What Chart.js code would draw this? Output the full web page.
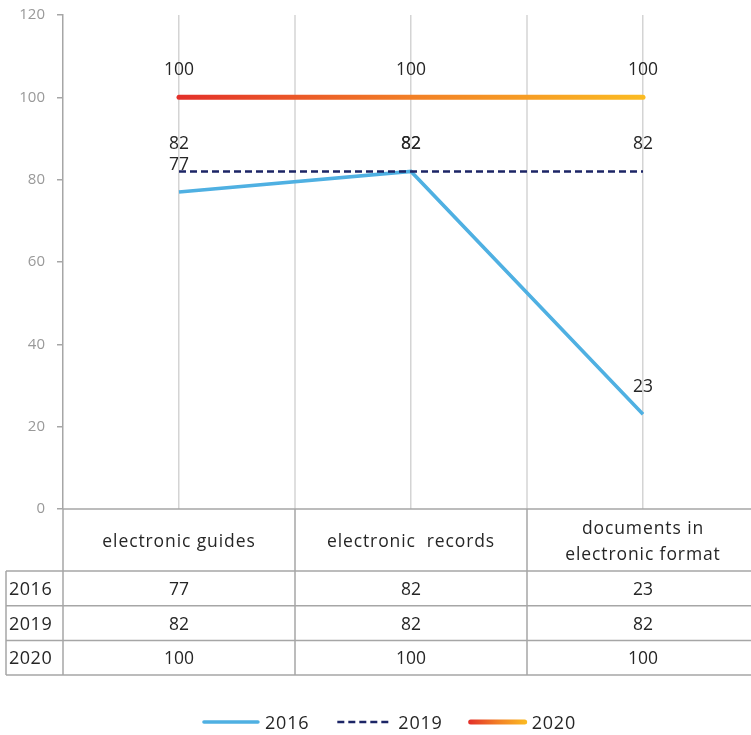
<!DOCTYPE html>
<html>
<head>
<meta charset="utf-8">
<script src="https://cdn.jsdelivr.net/npm/chart.js@4.4.1/dist/chart.umd.min.js"></script>
<style>
  html, body { margin: 0; padding: 0; background: #fff; overflow: hidden; }
  #wrap { width: 762px; height: 735px; position: relative; }
</style>
</head>
<body>
<div id="wrap"><canvas id="c"></canvas></div>
<script>
// Categories (header lines of the data table) and series values
const categories = [['electronic guides'], ['electronic  records'], ['documents in', 'electronic format']];
const years = ['2016', '2019', '2020'];
const values2016 = [77, 82, 23];
const values2019 = [82, 82, 82];
const values2020 = [100, 100, 100];

const FONT = '"Open Sans", sans-serif';
const TEXT = '#262626';
const GRID = '#d4d4d4';
const RULE = '#a6a6a6';

// Red → amber gradient for the 2020 line
function warmGradient(ctx, x0, x1) {
  const g = ctx.createLinearGradient(x0, 0, x1, 0);
  g.addColorStop(0, '#e3302a');
  g.addColorStop(0.5, '#f27f26');
  g.addColorStop(1, '#fbbb22');
  return g;
}

// Value labels above each point
const valueLabels = {
  id: 'valueLabels',
  afterDatasetsDraw(chart) {
    const ctx = chart.ctx;
    ctx.save();
    ctx.font = '17.5px ' + FONT;
    ctx.fillStyle = TEXT;
    ctx.textAlign = 'center';
    ctx.textBaseline = 'middle';
    chart.data.datasets.forEach((ds, i) => {
      chart.getDatasetMeta(i).data.forEach((pt, j) => {
        ctx.fillText(String(ds.data[j]), pt.x, pt.y - 27);
      });
    });
    ctx.restore();
  }
};

// Column separators reaching into the table, data table and legend
const dataTable = {
  id: 'dataTable',
  beforeDatasetsDraw(chart) {
    const { ctx, chartArea: a, scales: { x } } = chart;
    const step = x.getPixelForValue(1) - x.getPixelForValue(0);
    ctx.save();
    ctx.strokeStyle = GRID;
    ctx.lineWidth = 1.5;
    for (let i = 1; i < categories.length; i++) {
      const px = x.getPixelForValue(i) - step / 2;
      ctx.beginPath(); ctx.moveTo(px, a.top); ctx.lineTo(px, a.bottom); ctx.stroke();
    }
    ctx.restore();
  },
  afterDraw(chart) {
    const { ctx, chartArea: a, scales: { x } } = chart;
    const step = x.getPixelForValue(1) - x.getPixelForValue(0);
    const headTop = a.bottom, headBottom = a.bottom + 62;
    const rowH = 34.7;
    const tableBottom = headBottom + rowH * years.length;
    const leftEdge = 6;
    const rows = [values2016, values2019, values2020];

    ctx.save();
    ctx.strokeStyle = RULE;
    ctx.lineWidth = 1.5;
    // top rule (zero line)
    ctx.beginPath(); ctx.moveTo(a.left, headTop); ctx.lineTo(a.right, headTop); ctx.stroke();
    // horizontal rules of body rows
    for (let r = 0; r <= years.length; r++) {
      const y = headBottom + r * rowH;
      ctx.beginPath(); ctx.moveTo(leftEdge, y); ctx.lineTo(a.right, y); ctx.stroke();
    }
    // vertical rules
    ctx.beginPath(); ctx.moveTo(leftEdge, headBottom); ctx.lineTo(leftEdge, tableBottom); ctx.stroke();
    ctx.beginPath(); ctx.moveTo(a.left, headTop); ctx.lineTo(a.left, tableBottom); ctx.stroke();
    for (let i = 1; i <= categories.length; i++) {
      const px = x.getPixelForValue(i) - step / 2;
      ctx.beginPath(); ctx.moveTo(px, headTop); ctx.lineTo(px, tableBottom); ctx.stroke();
    }

    ctx.fillStyle = TEXT;
    ctx.textBaseline = 'middle';
    ctx.textAlign = 'center';
    ctx.font = '17.5px ' + FONT;
    ctx.letterSpacing = '0.9px';
    categories.forEach((lines, i) => {
      const cx = x.getPixelForValue(i);
      const mid = (headTop + headBottom) / 2 + 2;
      lines.forEach((t, k) => {
        ctx.fillText(t, cx, mid + (k - (lines.length - 1) / 2) * 26);
      });
    });
    ctx.letterSpacing = '0px';
    rows.forEach((vals, r) => {
      const cy = headBottom + r * rowH + rowH / 2 + 1.5;
      vals.forEach((v, i) => ctx.fillText(String(v), x.getPixelForValue(i), cy));
    });
    ctx.textAlign = 'left';
    ctx.font = '18px ' + FONT;
    ctx.letterSpacing = '0.5px';
    years.forEach((yr, r) => {
      ctx.fillText(yr, leftEdge + 3, headBottom + r * rowH + rowH / 2 + 1.5);
    });

    // legend
    ctx.font = '18px ' + FONT;
    ctx.letterSpacing = '0.8px';
    const ly = 722;
    const items = chart.data.datasets;
    const lineLen = 58, gap = 5, itemGap = 26;
    const widths = items.map(d => lineLen + gap + ctx.measureText(d.label).width);
    const total = widths.reduce((s, w) => s + w, 0) + itemGap * (items.length - 1);
    let lx = 389 - total / 2;
    items.forEach((d, i) => {
      ctx.save();
      ctx.lineWidth = d.legendWidth;
      ctx.lineCap = d.borderDash && d.borderDash.length ? 'butt' : 'round';
      ctx.setLineDash(d.borderDash || []);
      ctx.strokeStyle = d.label === '2020' ? warmGradient(ctx, lx, lx + lineLen) : d.borderColor;
      ctx.beginPath(); ctx.moveTo(lx + 2, ly); ctx.lineTo(lx + lineLen - 2, ly); ctx.stroke();
      ctx.restore();
      ctx.fillText(d.label, lx + lineLen + gap, ly + 2);
      lx += widths[i] + itemGap;
    });
    ctx.restore();
  }
};

new Chart(document.getElementById('c'), {
  type: 'line',
  data: {
    labels: categories.map(c => c.join(' ')),
    datasets: [
      {
        label: '2016', data: values2016,
        borderColor: '#4fb0e2', borderWidth: 3.5, legendWidth: 3.5,
        pointRadius: 0, tension: 0, order: 2
      },
      {
        label: '2019', data: values2019,
        borderColor: '#1c2566', borderWidth: 2.5, legendWidth: 2.5, borderDash: [7, 4],
        pointRadius: 0, tension: 0, order: 1
      },
      {
        label: '2020', data: values2020,
        borderColor: (context) => {
          const chart = context.chart;
          const a = chart.chartArea;
          if (!a) return '#f27f26';
          const x = chart.scales.x;
          return warmGradient(chart.ctx, x.getPixelForValue(0), x.getPixelForValue(values2020.length - 1));
        },
        borderWidth: 5, legendWidth: 5, borderCapStyle: 'round',
        pointRadius: 0, tension: 0, order: 0
      }
    ]
  },
  options: {
    responsive: true,
    maintainAspectRatio: false,
    animation: false,
    layout: { padding: { top: 15, bottom: 226, right: 3, left: 0 } },
    plugins: { legend: { display: false }, tooltip: { enabled: false } },
    scales: {
      x: {
        type: 'category',
        offset: true,
        grid: { display: true, offset: false, color: GRID, lineWidth: 1.5, drawTicks: false },
        border: { display: false },
        ticks: { display: false }
      },
      y: {
        min: 0, max: 120,
        ticks: { stepSize: 20, color: '#999999', font: { family: FONT, size: 15 }, padding: 12 },
        grid: { drawOnChartArea: false, drawTicks: true, tickLength: 6, color: RULE, lineWidth: 1.5 },
        border: { display: true, color: RULE, width: 1.5 },
        afterFit(scale) { scale.width = 63; scale.paddingTop = 0; scale.paddingBottom = 0; }
      }
    }
  },
  plugins: [valueLabels, dataTable]
});
</script>
</body>
</html>
